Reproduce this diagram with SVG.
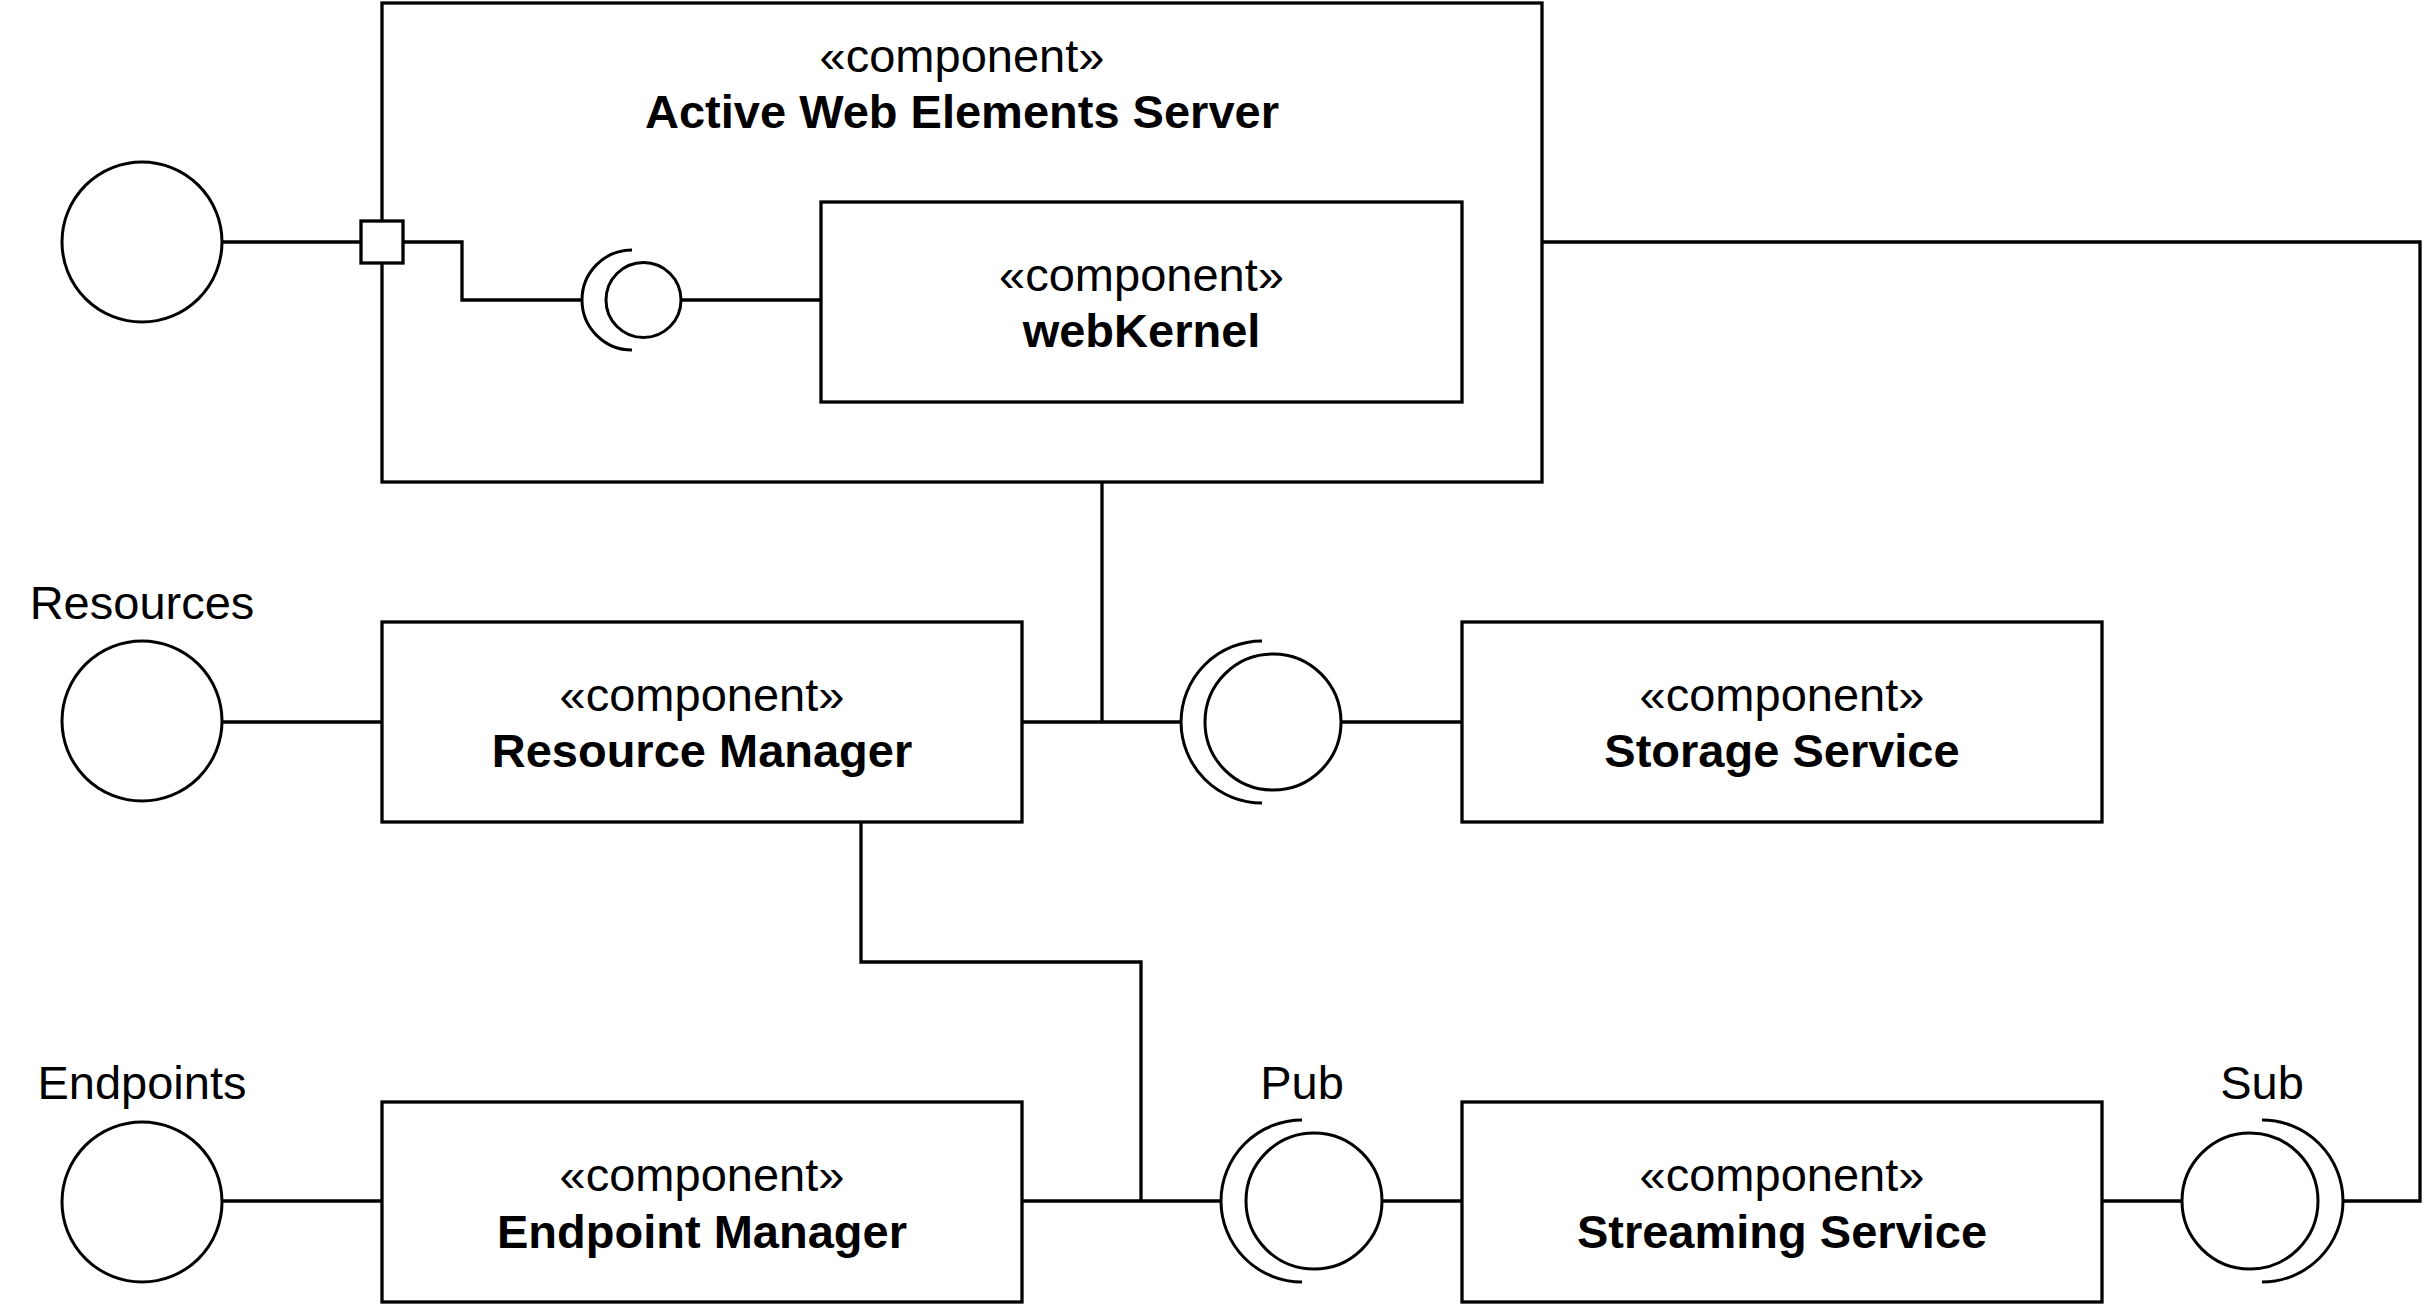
<svg xmlns="http://www.w3.org/2000/svg" width="2428" height="1304" viewBox="0 0 2428 1304">
<style>
.box{fill:#fff;stroke:#000;stroke-width:3.3}
.sym{fill:#fff;stroke:#000;stroke-width:3}
.arc{fill:none;stroke:#000;stroke-width:3}
.conn{fill:none;stroke:#000;stroke-width:3.3}
text{font-family:"Liberation Sans",Arial,Helvetica,sans-serif;font-size:47px;fill:#000;text-anchor:middle}
.b{font-weight:bold}
</style>
<rect width="2428" height="1304" fill="#fff"/>
<g id="server">
<rect class="box" x="382" y="3" width="1160" height="479"/>
<text x="962" y="72">«component»</text>
<text class="b" x="962" y="128">Active Web Elements Server</text>
</g>
<g id="connectors">
<path class="conn" d="M222 242H362"/>
<path class="conn" d="M402 242H462V300H582"/>
<path class="conn" d="M681 300H821"/>
<path class="conn" d="M1542 242H2420V1201H2343"/>
<path class="conn" d="M222 722H382"/>
<path class="conn" d="M1022 722H1181"/>
<path class="conn" d="M1102 482V722"/>
<path class="conn" d="M1341 722H1462"/>
<path class="conn" d="M222 1201H382"/>
<path class="conn" d="M861 822V962H1141V1201"/>
<path class="conn" d="M1022 1201H1221"/>
<path class="conn" d="M1383 1201H1462"/>
<path class="conn" d="M2102 1201H2181"/>
</g>
<g id="port">
<rect class="box" x="361" y="221" width="42" height="42"/>
</g>
<g id="external-interface">
<circle class="sym" cx="142" cy="242" r="80"/>
</g>
<g id="webkernel-socket">
<path class="arc" d="M632 250A50 50 0 0 0 632 350"/>
<circle class="sym" cx="643.5" cy="300" r="37.5"/>
</g>
<g id="webkernel">
<rect class="box" x="821" y="202" width="641" height="200"/>
<text x="1141.5" y="291">«component»</text>
<text class="b" x="1141.5" y="347">webKernel</text>
</g>
<g id="resources">
<text x="142" y="619">Resources</text>
<circle class="sym" cx="142" cy="721" r="80"/>
</g>
<g id="resource-manager">
<rect class="box" x="382" y="622" width="640" height="200"/>
<text x="702" y="711">«component»</text>
<text class="b" x="702" y="767">Resource Manager</text>
</g>
<g id="storage-socket">
<path class="arc" d="M1262 641A81 81 0 0 0 1262 803"/>
<circle class="sym" cx="1273" cy="722" r="68"/>
</g>
<g id="storage-service">
<rect class="box" x="1462" y="622" width="640" height="200"/>
<text x="1782" y="711">«component»</text>
<text class="b" x="1782" y="767">Storage Service</text>
</g>
<g id="endpoints">
<text x="142" y="1099">Endpoints</text>
<circle class="sym" cx="142" cy="1202" r="80"/>
</g>
<g id="endpoint-manager">
<rect class="box" x="382" y="1102" width="640" height="200"/>
<text x="702" y="1191">«component»</text>
<text class="b" x="702" y="1248">Endpoint Manager</text>
</g>
<g id="pub">
<text x="1302" y="1099">Pub</text>
<path class="arc" d="M1302 1120A81 81 0 0 0 1302 1282"/>
<circle class="sym" cx="1314" cy="1201" r="68"/>
</g>
<g id="streaming-service">
<rect class="box" x="1462" y="1102" width="640" height="200"/>
<text x="1782" y="1191">«component»</text>
<text class="b" x="1782" y="1248">Streaming Service</text>
</g>
<g id="sub">
<text x="2262" y="1099">Sub</text>
<circle class="sym" cx="2250" cy="1201" r="68"/>
<path class="arc" d="M2262 1120A81 81 0 0 1 2262 1282"/>
</g>
</svg>
